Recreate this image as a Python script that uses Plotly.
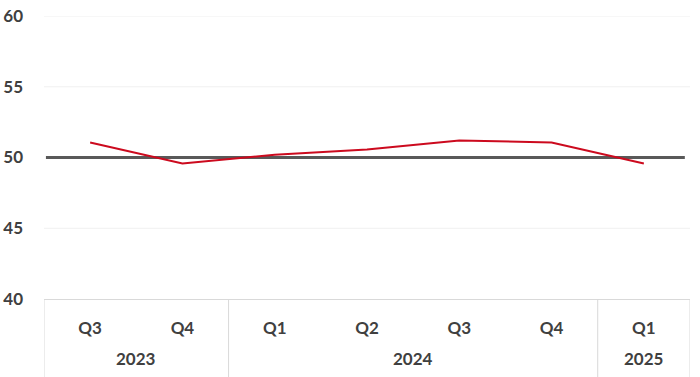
import plotly.graph_objects as go

years = ["2023", "2023", "2024", "2024", "2024", "2024", "2025"]
quarters = ["Q3", "Q4", "Q1", "Q2", "Q3", "Q4", "Q1"]
values = [51.06, 49.58, 50.2, 50.57, 51.2, 51.06, 49.58]
threshold = 50
y_ticks = [40, 45, 50, 55, 60]

pos = list(range(len(quarters)))

fig = go.Figure()
fig.add_trace(go.Scatter(
    x=pos, y=values, mode="lines",
    line=dict(color="#CC0A1E", width=2), showlegend=False, hoverinfo="skip",
))

# faint gridlines (except at the threshold, which gets its own heavy line)
for t in y_ticks:
    if t != threshold and t != y_ticks[0]:
        fig.add_shape(type="line", xref="paper", yref="y", x0=0, x1=1, y0=t, y1=t,
                      line=dict(color="#f0f0f0", width=1), layer="below")
fig.add_shape(type="line", xref="paper", yref="y", x0=0.003, x1=0.992, y0=threshold, y1=threshold,
              line=dict(color="#595959", width=3), layer="below")

font = dict(family="Lato", size=17, color="#404040", weight="bold")

# year groups: labels and dividers
groups = []
for i, yr in enumerate(years):
    if not groups or groups[-1][0] != yr:
        groups.append([yr, i, i])
    else:
        groups[-1][2] = i
bounds = [groups[0][1] - 0.5] + [g[2] + 0.5 for g in groups]
for b in bounds:
    fig.add_shape(type="line", xref="x", yref="paper", x0=b, x1=b, y0=0, y1=-0.3,
                  line=dict(color="#d9d9d9", width=1), layer="above")
for yr, a, b in groups:
    fig.add_annotation(x=(a + b) / 2, y=0, xref="x", yref="paper", text=yr,
                       showarrow=False, yanchor="middle", yshift=-59, font=font)

fig.update_layout(
    width=700, height=377,
    margin=dict(l=44, r=10, t=16, b=78, autoexpand=False),
    plot_bgcolor="white", paper_bgcolor="white",
    xaxis=dict(
        tickvals=pos, ticktext=quarters, tickfont=font, showgrid=False,
        range=[-0.5, len(values) - 0.5],
        showline=True, linecolor="#d9d9d9", linewidth=1, zeroline=False,
        ticks="", automargin=False, ticklabelstandoff=14,
    ),
    yaxis=dict(
        range=[40, 60], tickvals=y_ticks, tickfont=font,
        showgrid=False,
        zeroline=False, showline=False, ticks="", ticklabelstandoff=20,
        automargin=False,
    ),
)
fig.write_html("out.html", config={"displayModeBar": False},
               post_script="document.body.style.margin='0';document.body.style.overflow='hidden';")
